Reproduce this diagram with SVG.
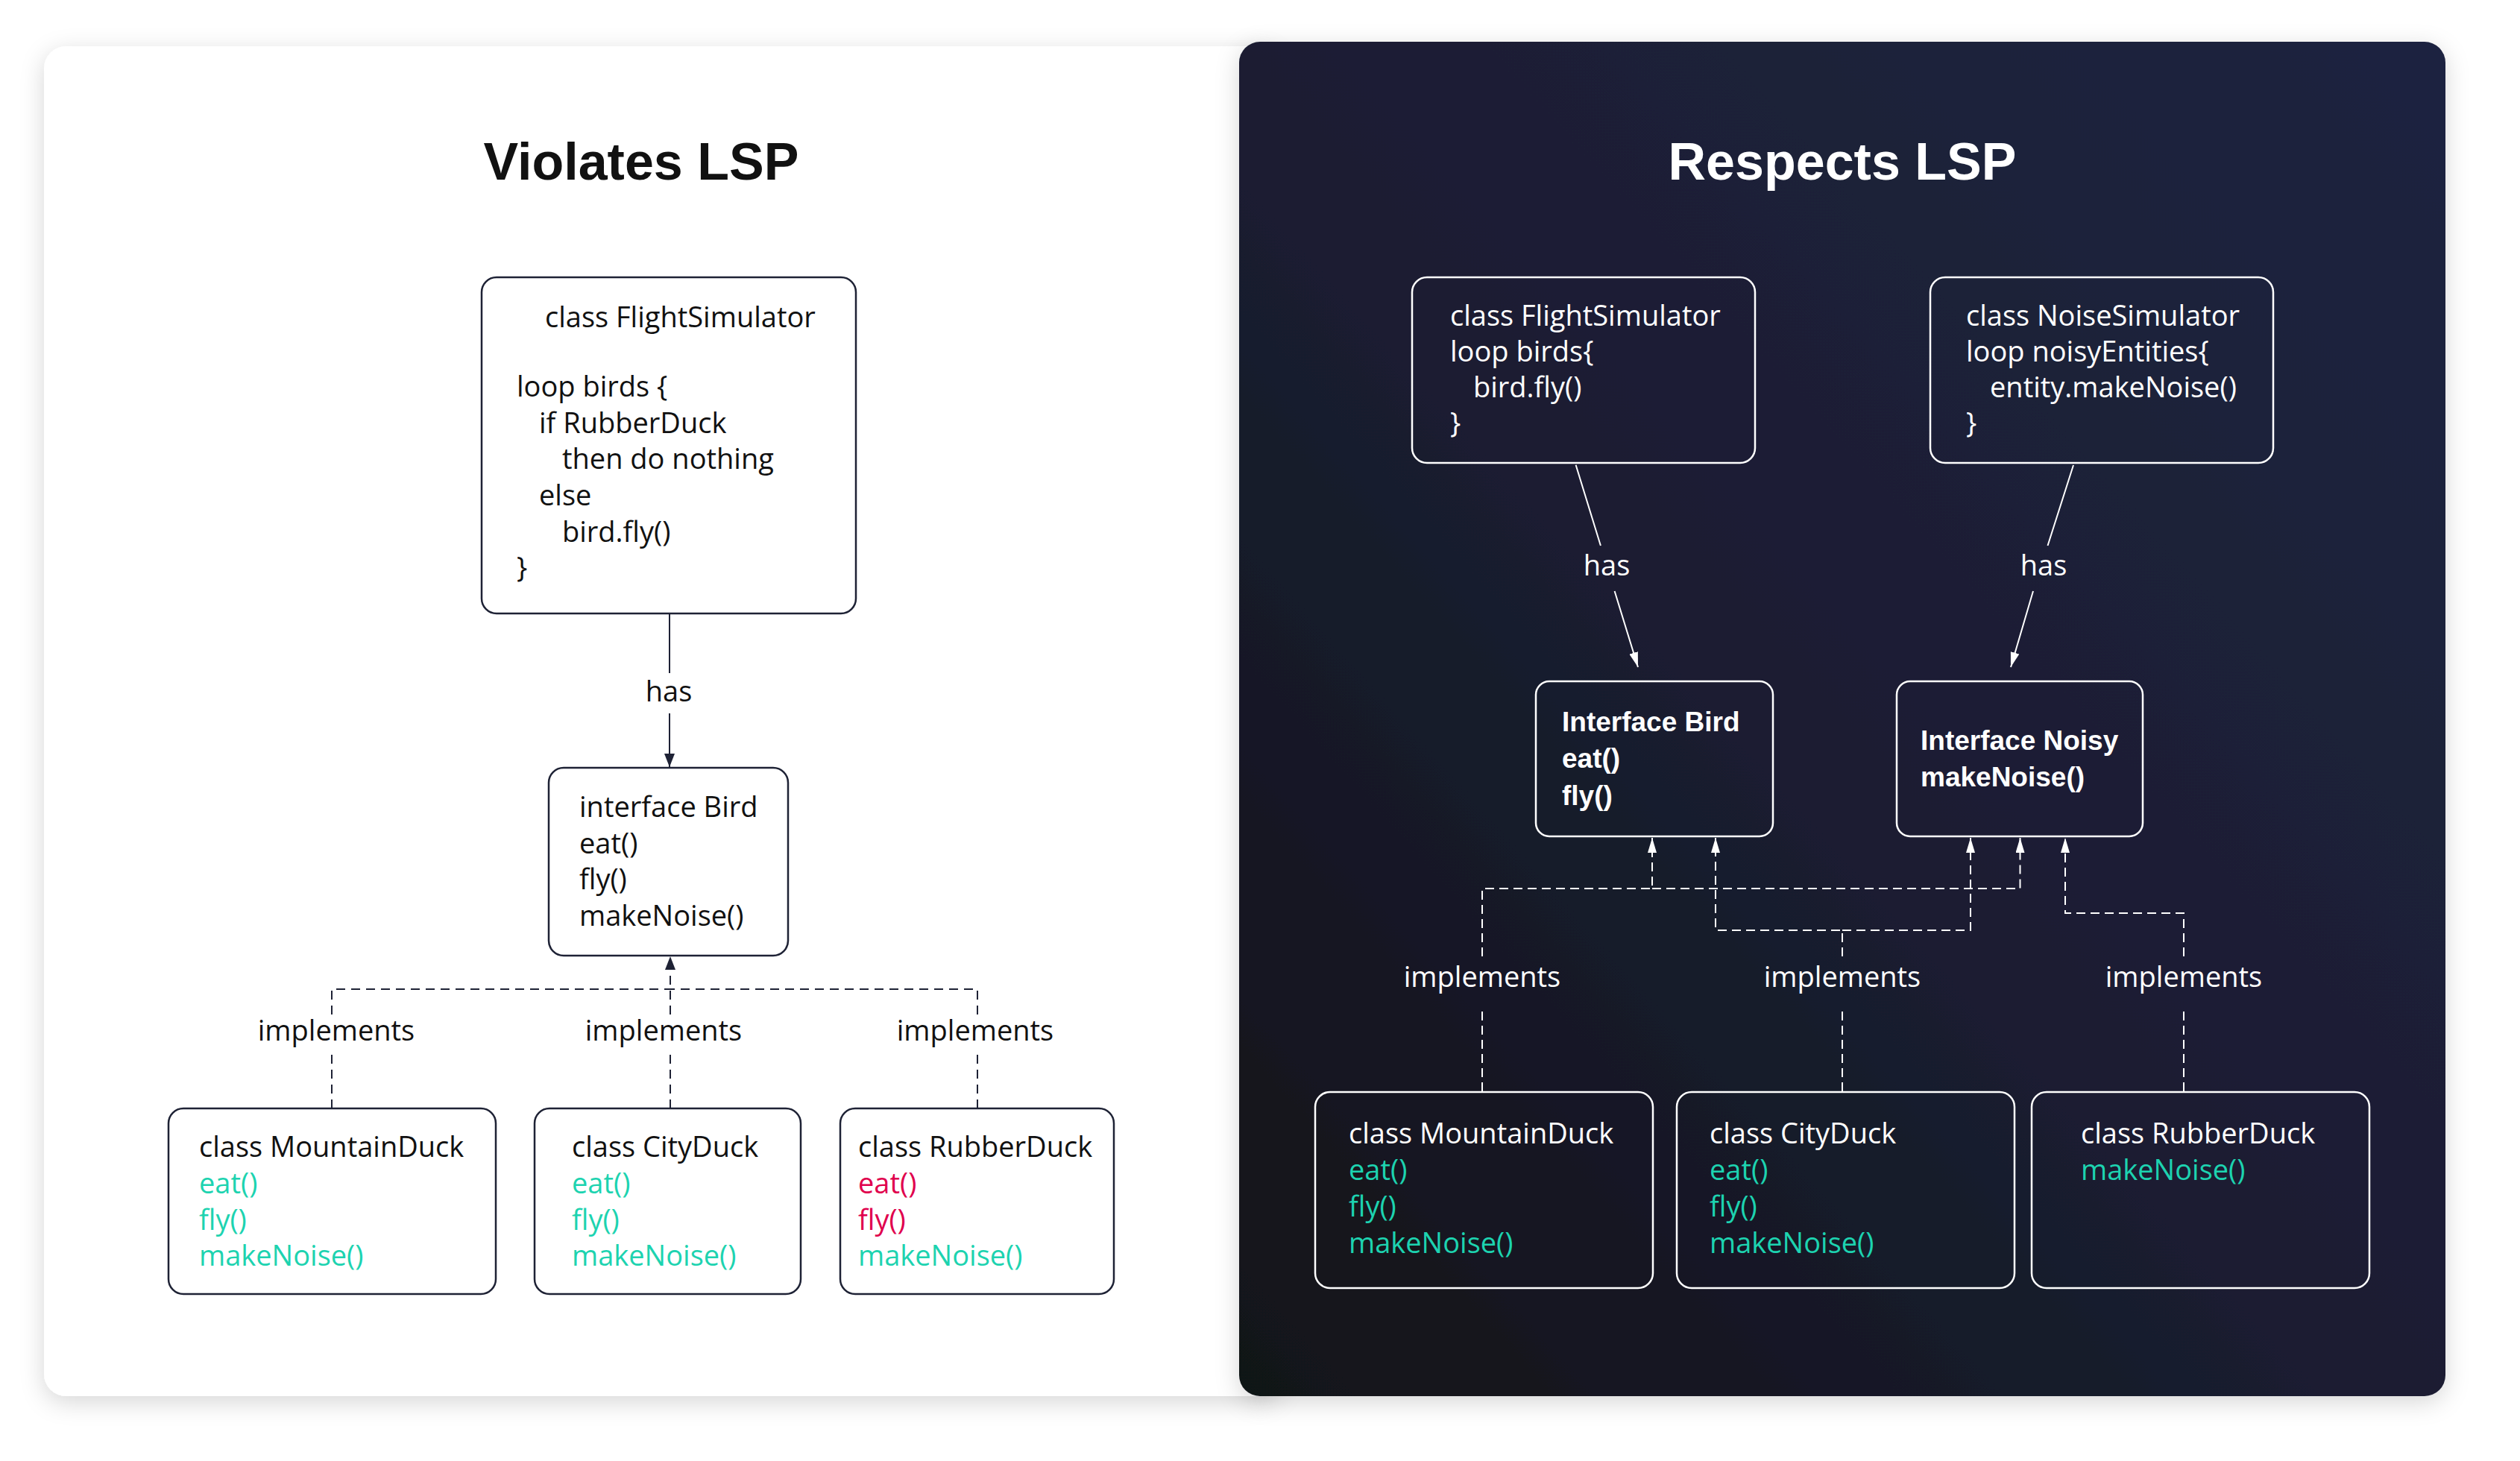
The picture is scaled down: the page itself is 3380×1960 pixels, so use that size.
<svg xmlns="http://www.w3.org/2000/svg" width="3380" height="1960" viewBox="0 0 3380 1960">
  <style>
    .title { font-family: "Liberation Sans", Arial, sans-serif; font-weight: 700; font-size: 70px; text-anchor: middle; }
    .t { font-family: "Open Sans", "Liberation Sans", sans-serif; font-size: 38px; font-weight: 500; }
    .b { font-family: "Liberation Sans", Arial, sans-serif; font-weight: 700; font-size: 37px; }
    .dk { fill: #111111; }
    .wh { fill: #ffffff; }
    .ok { fill: #1dd3b0; }
    .bad { fill: #e0004d; }
    .lbl { font-family: "Open Sans", "Liberation Sans", sans-serif; font-size: 38px; font-weight: 500; text-anchor: middle; }
    .boxL { fill: #ffffff; stroke: #1e2235; stroke-width: 2.5; }
    .boxR { fill: none; stroke: #ffffff; stroke-width: 2.5; }
    .solidL { fill: none; stroke: #1e2235; stroke-width: 2; }
    .dashL { fill: none; stroke: #1e2235; stroke-width: 2; stroke-dasharray: 12 8; }
    .solidR { fill: none; stroke: #ffffff; stroke-width: 2; }
    .dashR { fill: none; stroke: #ffffff; stroke-width: 2; stroke-dasharray: 12 7; }
  </style>
  <defs>
    <filter id="shadow" x="-10%" y="-10%" width="120%" height="120%">
      <feDropShadow dx="0" dy="8" stdDeviation="16" flood-color="#000000" flood-opacity="0.16"/>
    </filter>
    <linearGradient id="darkGrad" x1="0" y1="1" x2="1" y2="0">
      <stop offset="0" stop-color="#111318"/>
      <stop offset="0.5" stop-color="#1b1e33"/>
      <stop offset="1" stop-color="#1f2340"/>
    </linearGradient>
    <marker id="arrL" viewBox="0 0 18 14" refX="18" refY="7" markerWidth="18" markerHeight="14" markerUnits="userSpaceOnUse" orient="auto">
      <path d="M0,0 L18,7 L0,14 Z" fill="#1e2235"/>
    </marker>
    <marker id="arrR" viewBox="0 0 20 12" refX="20" refY="6" markerWidth="20" markerHeight="12" markerUnits="userSpaceOnUse" orient="auto">
      <path d="M0,0 L20,6 L0,12 Z" fill="#ffffff"/>
    </marker>
  </defs>

  <rect width="3380" height="1960" fill="#ffffff"/>

  <!-- panels -->
  <g id="panel-violates">
    <rect x="59" y="62" width="1660" height="1811" rx="30" fill="#ffffff" filter="url(#shadow)"/>
    <text class="title dk" x="860" y="241">Violates LSP</text>
  </g>
  <g id="panel-respects">
    <rect x="1662" y="56" width="1618" height="1817" rx="28" fill="url(#darkGrad)" filter="url(#shadow)"/>
    <text class="title wh" x="2471" y="241">Respects LSP</text>
  </g>

  <!-- connectors -->
  <g id="connectors">
    <!-- left side -->
    <path class="solidL" d="M898,823 L898,903 M898,957 L898,1029" marker-end="url(#arrL)"/>
    <text class="lbl dk" x="897" y="941">has</text>

    <path class="dashL" d="M445,1487 L445,1414 M445,1361 L445,1327 L899,1327"/>
    <path class="dashL" d="M1311,1487 L1311,1414 M1311,1361 L1311,1327 L899,1327"/>
    <path class="dashL" d="M899,1487 L899,1414 M899,1361 L899,1283" marker-end="url(#arrL)"/>
    <text class="lbl dk" x="451" y="1396">implements</text>
    <text class="lbl dk" x="890" y="1396">implements</text>
    <text class="lbl dk" x="1308" y="1396">implements</text>

    <!-- right side -->
    <path class="solidR" d="M2113.6,623.7 L2146.9,732 M2165.6,793 L2197,895" marker-end="url(#arrR)"/>
    <text class="lbl wh" x="2155" y="772">has</text>
    <path class="solidR" d="M2781,624 L2746.5,732 M2727,793 L2697,895" marker-end="url(#arrR)"/>
    <text class="lbl wh" x="2741" y="772">has</text>

    <path class="dashR" d="M1988,1464 L1988,1352 M1988,1283 L1988,1192 L2216,1192 L2216,1124" marker-end="url(#arrR)"/>
    <path class="dashR" d="M2216,1192 L2709.5,1192 L2709.5,1124" marker-end="url(#arrR)"/>
    <path class="dashR" d="M2471,1464 L2471,1352 M2471,1283 L2471,1248 L2301,1248 L2301,1124" marker-end="url(#arrR)"/>
    <path class="dashR" d="M2471,1248 L2643,1248 L2643,1124" marker-end="url(#arrR)"/>
    <path class="dashR" d="M2929,1464 L2929,1352 M2929,1283 L2929,1225 L2770,1225 L2770,1124" marker-end="url(#arrR)"/>
    <text class="lbl wh" x="1988" y="1324">implements</text>
    <text class="lbl wh" x="2471" y="1324">implements</text>
    <text class="lbl wh" x="2929" y="1324">implements</text>
  </g>

  <!-- left nodes -->
  <g id="L-FlightSimulator">
    <rect class="boxL" x="646" y="372" width="502" height="451" rx="20"/>
    <text class="t dk" x="731" y="439">class FlightSimulator</text>
    <text class="t dk" x="693" y="532">loop birds {</text>
    <text class="t dk" x="723" y="580.5">if RubberDuck</text>
    <text class="t dk" x="754" y="629">then do nothing</text>
    <text class="t dk" x="723" y="678">else</text>
    <text class="t dk" x="754" y="726.5">bird.fly()</text>
    <text class="t dk" x="693" y="775">}</text>
  </g>
  <g id="L-Bird">
    <rect class="boxL" x="736" y="1030" width="321" height="252" rx="20"/>
    <text class="t dk" x="777" y="1096">interface Bird</text>
    <text class="t dk" x="777" y="1145">eat()</text>
    <text class="t dk" x="777" y="1193">fly()</text>
    <text class="t dk" x="777" y="1242">makeNoise()</text>
  </g>
  <g id="L-MountainDuck">
    <rect class="boxL" x="226" y="1487" width="439" height="249" rx="20"/>
    <text class="t dk" x="267" y="1552">class MountainDuck</text>
    <text class="t ok" x="267" y="1601">eat()</text>
    <text class="t ok" x="267" y="1650">fly()</text>
    <text class="t ok" x="267" y="1698">makeNoise()</text>
  </g>
  <g id="L-CityDuck">
    <rect class="boxL" x="717" y="1487" width="357" height="249" rx="20"/>
    <text class="t dk" x="767" y="1552">class CityDuck</text>
    <text class="t ok" x="767" y="1601">eat()</text>
    <text class="t ok" x="767" y="1650">fly()</text>
    <text class="t ok" x="767" y="1698">makeNoise()</text>
  </g>
  <g id="L-RubberDuck">
    <rect class="boxL" x="1127" y="1487" width="367" height="249" rx="20"/>
    <text class="t dk" x="1151" y="1552">class RubberDuck</text>
    <text class="t bad" x="1151" y="1601">eat()</text>
    <text class="t bad" x="1151" y="1650">fly()</text>
    <text class="t ok" x="1151" y="1698">makeNoise()</text>
  </g>

  <!-- right nodes -->
  <g id="R-FlightSimulator">
    <rect class="boxR" x="1894" y="372" width="460" height="249" rx="20"/>
    <text class="t wh" x="1945" y="437">class FlightSimulator</text>
    <text class="t wh" x="1945" y="485">loop birds{</text>
    <text class="t wh" x="1976" y="533">bird.fly()</text>
    <text class="t wh" x="1945" y="581">}</text>
  </g>
  <g id="R-NoiseSimulator">
    <rect class="boxR" x="2589" y="372" width="460" height="249" rx="20"/>
    <text class="t wh" x="2637" y="437">class NoiseSimulator</text>
    <text class="t wh" x="2637" y="485">loop noisyEntities{</text>
    <text class="t wh" x="2669" y="533">entity.makeNoise()</text>
    <text class="t wh" x="2637" y="581">}</text>
  </g>
  <g id="R-Bird">
    <rect class="boxR" x="2060" y="914" width="318" height="208" rx="18"/>
    <text class="b wh" x="2095" y="981">Interface Bird</text>
    <text class="b wh" x="2095" y="1030">eat()</text>
    <text class="b wh" x="2095" y="1080">fly()</text>
  </g>
  <g id="R-Noisy">
    <rect class="boxR" x="2544" y="914" width="330" height="208" rx="18"/>
    <text class="b wh" x="2576" y="1006">Interface Noisy</text>
    <text class="b wh" x="2576" y="1055">makeNoise()</text>
  </g>
  <g id="R-MountainDuck">
    <rect class="boxR" x="1764" y="1465" width="453" height="263" rx="20"/>
    <text class="t wh" x="1809" y="1534">class MountainDuck</text>
    <text class="t ok" x="1809" y="1583">eat()</text>
    <text class="t ok" x="1809" y="1632">fly()</text>
    <text class="t ok" x="1809" y="1681">makeNoise()</text>
  </g>
  <g id="R-CityDuck">
    <rect class="boxR" x="2249" y="1465" width="453" height="263" rx="20"/>
    <text class="t wh" x="2293" y="1534">class CityDuck</text>
    <text class="t ok" x="2293" y="1583">eat()</text>
    <text class="t ok" x="2293" y="1632">fly()</text>
    <text class="t ok" x="2293" y="1681">makeNoise()</text>
  </g>
  <g id="R-RubberDuck">
    <rect class="boxR" x="2725" y="1465" width="453" height="263" rx="20"/>
    <text class="t wh" x="2791" y="1534">class RubberDuck</text>
    <text class="t ok" x="2791" y="1583">makeNoise()</text>
  </g>
</svg>
